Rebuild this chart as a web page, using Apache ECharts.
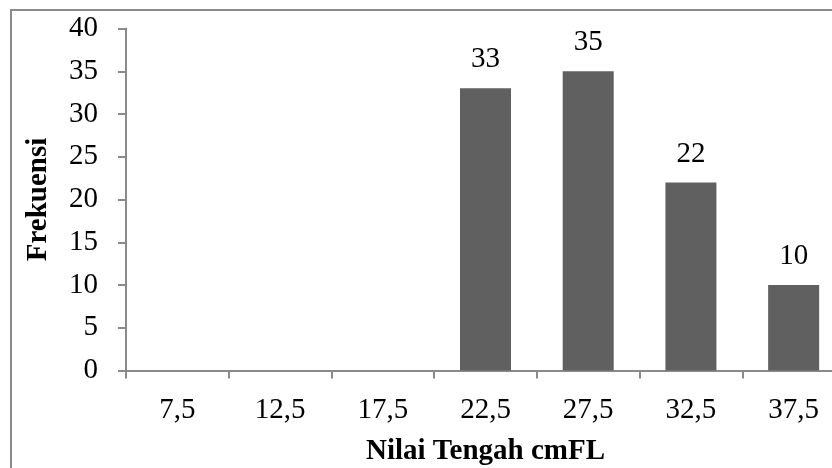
<!DOCTYPE html>
<html><head><meta charset="utf-8">
<script src="https://cdn.jsdelivr.net/npm/echarts@6/dist/echarts.min.js"></script>
<style>html,body{margin:0;padding:0;background:#fff;overflow:hidden}#c{width:845px;height:468px}</style>
</head><body><div id="c"></div>
<script>
const categories = ['7,5','12,5','17,5','22,5','27,5','32,5','37,5'];
const frekuensi = [0,0,0,33,35,22,10];
const yTitle = 'Frekuensi';
const xTitle = 'Nilai Tengah cmFL';
const font = '"Liberation Serif", "Times New Roman", serif';
const chart = echarts.init(document.getElementById('c'));
chart.setOption({
  animation:false,
  backgroundColor:'#fff',
  graphic:[{type:'rect',shape:{x:11,y:10,width:860,height:480},style:{fill:'none',stroke:'#8a8a8a',lineWidth:2},silent:true}],
  grid:{left:126,right:0,top:28.5,bottom:97.5,outerBoundsMode:'none',containLabel:false},
  xAxis:{type:'category',data:categories,
    axisLine:{lineStyle:{color:'#8a8a8a',width:2}},
    axisTick:{show:true,length:8,lineStyle:{color:'#8a8a8a',width:2}},
    axisLabel:{color:'#000',fontFamily:font,fontSize:29,margin:25},
    name:xTitle,nameLocation:'middle',nameGap:67,
    nameTextStyle:{color:'#000',fontFamily:font,fontSize:29,fontWeight:'bold'}},
  yAxis:{type:'value',min:0,max:40,interval:5,
    axisLine:{show:true,lineStyle:{color:'#8a8a8a',width:2}},
    axisTick:{show:true,length:8,lineStyle:{color:'#8a8a8a',width:2}},
    splitLine:{show:false},
    axisLabel:{color:'#000',fontFamily:font,fontSize:29,margin:28},
    name:yTitle,nameLocation:'middle',nameGap:73,
    nameTextStyle:{color:'#000',fontFamily:font,fontSize:29,fontWeight:'bold'}},
  series:[{type:'bar',data:frekuensi,barWidth:51,
    itemStyle:{color:'#606060'},
    label:{show:true,position:'top',distance:14,color:'#000',fontFamily:font,fontSize:29,
      formatter:p=>p.value>0?p.value:''}}]
});
</script></body></html>
